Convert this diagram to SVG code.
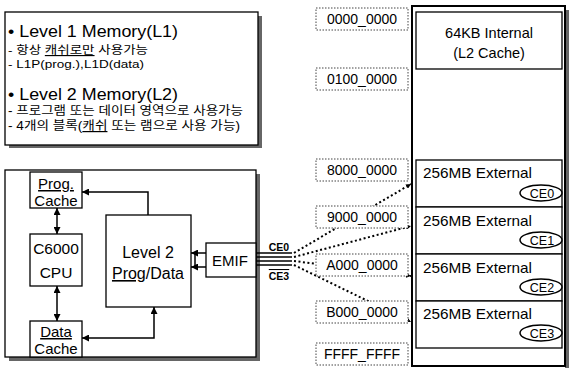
<svg xmlns="http://www.w3.org/2000/svg" width="570" height="368" viewBox="0 0 570 368">
<style>
.t{font-family:"Liberation Sans","Noto Sans CJK KR",Arial,sans-serif;fill:#000}
.box{fill:#fff;stroke:#000;stroke-width:1.3}
.shadow{fill:#666}
.addr{fill:#fff;stroke:#444;stroke-width:1;stroke-dasharray:1.5 1.5}
.conn{fill:none;stroke:#000;stroke-width:1.5}
.dot{fill:none;stroke:#000;stroke-width:2;stroke-dasharray:2 2.5}
.u{text-decoration:underline}
.ce{fill:#fff;stroke:#000;stroke-width:1.5}
</style>
<defs>
<marker id="ah" viewBox="0 0 8 8" refX="8" refY="4" markerWidth="7" markerHeight="7" markerUnits="userSpaceOnUse" orient="auto-start-reverse">
<path d="M0,0 L8,4 L0,8 z" fill="#000"/>
</marker>
<marker id="ahs" viewBox="0 0 8 8" refX="8" refY="4" markerWidth="5" markerHeight="5" markerUnits="userSpaceOnUse" orient="auto">
<path d="M0,0 L8,4 L0,8 z" fill="#000"/>
</marker>
</defs>

<g id="notes">
<rect class="shadow" x="9" y="16" width="253" height="132"/>
<rect class="box" x="5" y="12" width="253" height="133"/>
<text class="t" x="8" y="37" font-size="17" textLength="170" lengthAdjust="spacingAndGlyphs">• Level 1 Memory(L1)</text>
<text class="t" x="8" y="54" font-size="11.5" textLength="140" lengthAdjust="spacingAndGlyphs">- 항상 <tspan class="u">캐쉬로만</tspan> 사용가능</text>
<text class="t" x="8" y="68" font-size="11.5" textLength="136" lengthAdjust="spacingAndGlyphs">- L1P(prog.),L1D(data)</text>
<text class="t" x="8" y="100" font-size="17" textLength="170" lengthAdjust="spacingAndGlyphs">• Level 2 Memory(L2)</text>
<text class="t" x="8" y="115" font-size="12" textLength="235" lengthAdjust="spacingAndGlyphs">- 프로그램 또는 데이터 영역으로 사용가능</text>
<text class="t" x="8" y="130" font-size="12" textLength="232" lengthAdjust="spacingAndGlyphs">- 4개의 블록(<tspan class="u">캐쉬</tspan> 또는 램으로 사용 가능)</text>
</g>

<g id="chip">
<rect class="shadow" x="9" y="174" width="251" height="187"/>
<rect class="box" x="5" y="170" width="251" height="187"/>
</g>

<g id="prog-cache">
<rect class="box" x="30" y="172" width="52" height="36"/>
<text class="t" x="56" y="189" font-size="15" text-anchor="middle"><tspan class="u">Prog.</tspan></text>
<text class="t" x="56" y="206" font-size="15" text-anchor="middle">Cache</text>
</g>

<g id="cpu">
<rect class="box" x="30" y="234" width="52" height="52"/>
<text class="t" x="56" y="254" font-size="15.5" text-anchor="middle">C6000</text>
<text class="t" x="56" y="278" font-size="15.5" text-anchor="middle">CPU</text>
</g>

<g id="data-cache">
<rect class="box" x="30" y="321" width="52" height="36"/>
<text class="t" x="56" y="337" font-size="15" text-anchor="middle"><tspan class="u">Data</tspan></text>
<text class="t" x="56" y="354" font-size="15" text-anchor="middle">Cache</text>
</g>

<g id="level2">
<rect class="box" x="106" y="215" width="85" height="92"/>
<text class="t" x="148" y="258" font-size="16" text-anchor="middle">Level 2</text>
<text class="t" x="148" y="279" font-size="16" text-anchor="middle"><tspan class="u">Prog</tspan>/Data</text>
</g>

<g id="emif">
<rect class="box" x="206" y="243" width="50" height="34"/>
<text class="t" x="230" y="266" font-size="15" text-anchor="middle">EMIF</text>
<text class="t" x="279" y="251" font-size="10.5" font-weight="bold" text-anchor="middle">CE0</text>
<text class="t" x="279" y="280" font-size="10.5" font-weight="bold" text-anchor="middle" text-decoration="overline">CE3</text>
</g>

<g id="connectors">
<line class="conn" x1="57" y1="208" x2="57" y2="234" marker-start="url(#ah)" marker-end="url(#ah)"/>
<line class="conn" x1="57" y1="286" x2="57" y2="321" marker-start="url(#ah)" marker-end="url(#ah)"/>
<path class="conn" d="M148,215 V192 H82" marker-end="url(#ah)"/>
<path class="conn" d="M154,307 V338 H82" marker-start="url(#ah)" marker-end="url(#ah)"/>
<path class="conn" d="M206,253 H191" marker-end="url(#ah)"/>
<path class="conn" d="M206,267 H191" marker-end="url(#ah)"/>
<line class="conn" x1="195" y1="253" x2="195" y2="267"/>
<g stroke="#000" stroke-width="1.5">
<line x1="256" y1="253" x2="292" y2="253"/>
<line x1="256" y1="257" x2="292" y2="257"/>
<line x1="256" y1="261" x2="292" y2="261"/>
<line x1="256" y1="265" x2="292" y2="265"/>
</g>
<line class="dot" x1="294" y1="253" x2="411" y2="184" marker-end="url(#ahs)"/>
<line class="dot" x1="294" y1="257" x2="411" y2="226" marker-end="url(#ahs)"/>
<line class="dot" x1="294" y1="261" x2="411" y2="276" marker-end="url(#ahs)"/>
<line class="dot" x1="294" y1="265" x2="411" y2="322" marker-end="url(#ahs)"/>
</g>

<g id="addresses">
<rect class="addr" x="316" y="8" width="92" height="22"/>
<text class="t" x="362" y="24" font-size="14" text-anchor="middle">0000_0000</text>
<rect class="addr" x="316" y="68" width="92" height="22"/>
<text class="t" x="362" y="84" font-size="14" text-anchor="middle">0100_0000</text>
<rect class="addr" x="316" y="159" width="92" height="22"/>
<text class="t" x="362" y="175" font-size="14" text-anchor="middle">8000_0000</text>
<rect class="addr" x="316" y="206" width="92" height="22"/>
<text class="t" x="362" y="222" font-size="14" text-anchor="middle">9000_0000</text>
<rect class="addr" x="316" y="254" width="92" height="22"/>
<text class="t" x="362" y="270" font-size="14" text-anchor="middle">A000_0000</text>
<rect class="addr" x="316" y="301" width="92" height="22"/>
<text class="t" x="362" y="317" font-size="14" text-anchor="middle">B000_0000</text>
<rect class="addr" x="316" y="343" width="92" height="22"/>
<text class="t" x="362" y="359" font-size="14" text-anchor="middle">FFFF_FFFF</text>
</g>

<g id="memory-map">
<rect class="shadow" x="565" y="10" width="4" height="358"/>
<rect x="412" y="6" width="153" height="360" fill="#fff" stroke="#000" stroke-width="2"/>
</g>

<g id="internal">
<rect class="box" x="416" y="12" width="146" height="57"/>
<text class="t" x="489" y="38" font-size="14.5" text-anchor="middle">64KB Internal</text>
<text class="t" x="489" y="58" font-size="14.5" text-anchor="middle">(L2 Cache)</text>
</g>

<g id="ce0">
<rect class="box" x="416" y="160" width="146" height="47"/>
<text class="t" x="423" y="178" font-size="15" textLength="109" lengthAdjust="spacingAndGlyphs">256MB External</text>
<ellipse class="ce" cx="541" cy="193" rx="21" ry="8"/>
<text class="t" x="542" y="197.5" font-size="12.5" text-anchor="middle">CE0</text>
</g>
<g id="ce1">
<rect class="box" x="416" y="207" width="146" height="47"/>
<text class="t" x="423" y="226" font-size="15" textLength="109" lengthAdjust="spacingAndGlyphs">256MB External</text>
<ellipse class="ce" cx="541" cy="240" rx="21" ry="8"/>
<text class="t" x="542" y="244.5" font-size="12.5" text-anchor="middle">CE1</text>
</g>
<g id="ce2">
<rect class="box" x="416" y="254" width="146" height="47"/>
<text class="t" x="423" y="273" font-size="15" textLength="109" lengthAdjust="spacingAndGlyphs">256MB External</text>
<ellipse class="ce" cx="541" cy="287" rx="21" ry="8"/>
<text class="t" x="542" y="291.5" font-size="12.5" text-anchor="middle">CE2</text>
</g>
<g id="ce3">
<rect class="box" x="416" y="301" width="146" height="47"/>
<text class="t" x="423" y="319" font-size="15" textLength="109" lengthAdjust="spacingAndGlyphs">256MB External</text>
<ellipse class="ce" cx="541" cy="333" rx="21" ry="8"/>
<text class="t" x="542" y="337.5" font-size="12.5" text-anchor="middle">CE3</text>
</g>
</svg>
